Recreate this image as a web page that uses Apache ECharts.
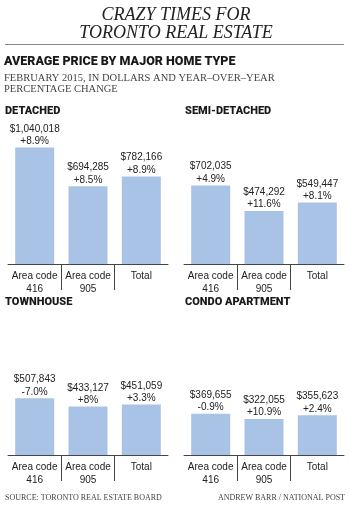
<!DOCTYPE html>
<html>
<head>
<meta charset="utf-8">
<script src="https://cdn.jsdelivr.net/npm/echarts@6/dist/echarts.min.js"></script>
<style>
  html, body { margin: 0; padding: 0; background: #fff; }
  #chart { width: 350px; height: 510px; }
</style>
</head>
<body>
<div id="chart"></div>
<script>
// data
const categories = ['Area code\n416', 'Area code\n905', 'Total'];
const homeTypes = ['DETACHED', 'SEMI-DETACHED', 'TOWNHOUSE', 'CONDO APARTMENT'];
const detachedPrice = [1040018, 694285, 782166];
const detachedChange = ['+8.9%', '+8.5%', '+8.9%'];
const semiPrice = [702035, 474292, 549447];
const semiChange = ['+4.9%', '+11.6%', '+8.1%'];
const townPrice = [507843, 433127, 451059];
const townChange = ['-7.0%', '+8%', '+3.3%'];
const condoPrice = [369655, 322055, 355623];
const condoChange = ['-0.9%', '+10.9%', '+2.4%'];
const dividerTicks = [1, 2];

const prices = [detachedPrice, semiPrice, townPrice, condoPrice];
const changes = [detachedChange, semiChange, townChange, condoChange];

const narrow = "'Liberation Sans', Arial, sans-serif";
const heavy = "Roboto, 'Noto Sans', sans-serif";
const serif = "'Liberation Serif', 'DejaVu Serif', serif";

const grids = [
  { left: 8, top: 123, width: 160, height: 141 },
  { left: 184, top: 123, width: 160, height: 141 },
  { left: 8, top: 314, width: 160, height: 141 },
  { left: 184, top: 314, width: 160, height: 141 },
];
const panelTitlePos = [[5, 105], [185, 105], [5, 296], [185, 296]];

const fmt = v => '$' + v.toLocaleString('en-US');

const chart = echarts.init(document.getElementById('chart'));

chart.setOption({
  animation: false,
  title: [
    {
      text: 'CRAZY TIMES FOR\nTORONTO REAL ESTATE',
      left: 176, top: 6, padding: 0,
      textAlign: 'center',
      textStyle: { fontFamily: serif, fontStyle: 'italic', fontWeight: 'normal', fontSize: 18, lineHeight: 18, color: '#222' },
    },
    {
      text: 'AVERAGE PRICE BY MAJOR HOME TYPE',
      left: 4, top: 55, padding: 0,
      textStyle: { fontFamily: heavy, fontWeight: 900, fontSize: 12.5, lineHeight: 14, color: '#1a1a1a' },
    },
    {
      text: 'FEBRUARY 2015, IN DOLLARS AND YEAR\u2013OVER\u2013YEAR\nPERCENTAGE CHANGE',
      left: 4, top: 72.5, padding: 0,
      textStyle: { fontFamily: serif, fontWeight: 'normal', fontSize: 10.5, lineHeight: 11, color: '#444' },
    },
    ...homeTypes.map((name, i) => ({
      text: name,
      left: panelTitlePos[i][0], top: panelTitlePos[i][1], padding: 0,
      textStyle: { fontFamily: heavy, fontWeight: 900, fontSize: 11, lineHeight: 12, color: '#1a1a1a' },
    })),
    {
      text: 'SOURCE: TORONTO REAL ESTATE BOARD',
      left: 5, top: 493, padding: 0,
      textStyle: { fontFamily: serif, fontWeight: 'normal', fontSize: 8, lineHeight: 9, color: '#444' },
    },
    {
      text: 'ANDREW BARR / NATIONAL POST',
      right: 5, top: 493, padding: 0,
      textStyle: { fontFamily: serif, fontWeight: 'normal', fontSize: 8, lineHeight: 9, color: '#444' },
    },
  ],
  graphic: [{
    type: 'line',
    shape: { x1: 5, y1: 44.5, x2: 344, y2: 44.5 },
    style: { stroke: '#888', lineWidth: 1 },
  }],
  grid: grids,
  xAxis: [
    ...grids.map((_, i) => ({
      type: 'category',
      gridIndex: i,
      data: categories,
      axisLine: { lineStyle: { color: '#444', width: 1 } },
      axisTick: { show: false },
      axisLabel: {
        interval: 0,
        margin: 6,
        fontFamily: narrow,
        fontSize: 10,
        lineHeight: 13,
        color: '#222',
      },
      splitLine: { show: false },
    })),
    // the dividers between categories
    ...grids.map((_, i) => ({
      type: 'value',
      gridIndex: i,
      position: 'bottom',
      min: 0,
      max: 3,
      interval: 1,
      axisLine: { show: false },
      axisLabel: { show: false },
      axisTick: {
        show: true,
        customValues: dividerTicks,
        length: 26,
        lineStyle: { color: '#444', width: 1 },
      },
      splitLine: {
        show: true,
        showMinLine: false,
        showMaxLine: false,
        lineStyle: { color: '#cfcfcf', width: 1 },
      },
    })),
  ],
  yAxis: grids.map((_, i) => ({
    type: 'value',
    gridIndex: i,
    min: 0,
    max: 1260000,
    show: false,
  })),
  series: prices.map((data, i) => ({
    type: 'bar',
    xAxisIndex: i,
    yAxisIndex: i,
    data: data,
    barWidth: 39,
    itemStyle: { color: '#a9c3e6' },
    label: {
      show: true,
      position: 'top',
      distance: 0,
      fontFamily: narrow,
      fontSize: 10,
      lineHeight: 12.5,
      color: '#222',
      formatter: p => fmt(p.value) + '\n' + changes[i][p.dataIndex],
    },
  })),
});
</script>
</body>
</html>
